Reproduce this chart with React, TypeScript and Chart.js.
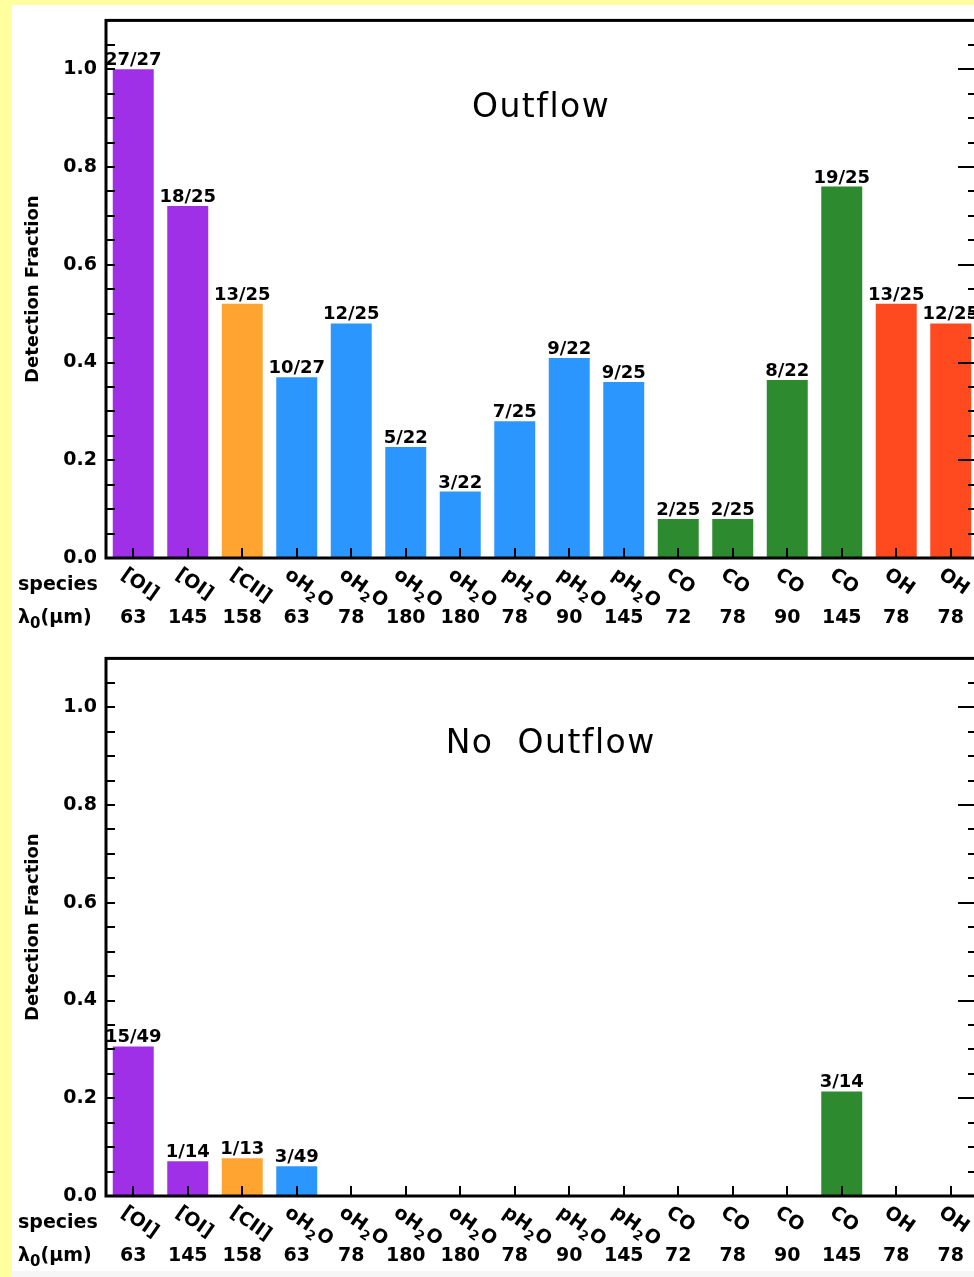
import React, { useEffect, useRef } from 'react';
import { Chart, registerables } from 'chart.js';

Chart.register(...registerables);

// ---------- data ----------
const species = ['[OI]', '[OI]', '[CII]', 'oH2O', 'oH2O', 'oH2O', 'oH2O', 'pH2O', 'pH2O', 'pH2O', 'CO', 'CO', 'CO', 'CO', 'OH', 'OH'];
const wavelengths = ['63', '145', '158', '63', '78', '180', '180', '78', '90', '145', '72', '78', '90', '145', '78', '78'];

const PURPLE = '#A030E8';
const ORANGE = '#FFA430';
const BLUE = '#2C96FF';
const GREEN = '#2E8A2E';
const RED = '#FF4A20';
const barColors = [PURPLE, PURPLE, ORANGE, BLUE, BLUE, BLUE, BLUE, BLUE, BLUE, BLUE, GREEN, GREEN, GREEN, GREEN, RED, RED];

const outflowValues = [1.0, 0.72, 0.52, 0.37, 0.48, 0.227, 0.136, 0.28, 0.409, 0.36, 0.08, 0.08, 0.364, 0.76, 0.52, 0.48];
const outflowDetected = [27, 18, 13, 10, 12, 5, 3, 7, 9, 9, 2, 2, 8, 19, 13, 12];
const outflowTotal = [27, 25, 25, 27, 25, 22, 22, 25, 22, 25, 25, 25, 22, 25, 25, 25];

const noOutflowValues = [0.306, 0.071, 0.077, 0.061, null, null, null, null, null, null, null, null, null, 0.214, null, null];
const noOutflowDetected = [15, 1, 1, 3, null, null, null, null, null, null, null, null, null, 3, null, null];
const noOutflowTotal = [49, 14, 13, 49, null, null, null, null, null, null, null, null, null, 14, null, null];

const yMajorTicks = [0, 0.2, 0.4, 0.6, 0.8, 1.0];
const yMax = 1.1;
const yMinorStep = 0.05;

const FONT = '"DejaVu Sans", sans-serif';

// ---------- helpers ----------
function drawRich(ctx: CanvasRenderingContext2D, text: string, x: number, y: number, size: number, subScale = 0.7, subDrop = 0.4) {
  const parts: { t: string; sub: boolean }[] = [];
  for (const ch of text) {
    const sub = /[0-9]/.test(ch);
    const last = parts[parts.length - 1];
    if (last && last.sub === sub) last.t += ch;
    else parts.push({ t: ch, sub });
  }
  const mainFont = `bold ${size}px ${FONT}`;
  const subFont = `bold ${Math.round(size * subScale)}px ${FONT}`;
  let cx = x;
  ctx.textAlign = 'left';
  ctx.textBaseline = 'alphabetic';
  for (const p of parts) {
    ctx.font = p.sub ? subFont : mainFont;
    ctx.fillText(p.t, cx, p.sub ? y + size * subDrop : y);
    cx += ctx.measureText(p.t).width;
  }
}

function panelPlugin(title: string, titleFrac: number, titleBaseline: number, detected: (number | null)[], totals: (number | null)[]) {
  return {
    id: 'panelDecor',
    afterDatasetsDraw(chart: any) {
      const { ctx, chartArea } = chart;
      const { left, right, top, bottom } = chartArea;
      const xs = chart.scales.x;
      const ys = chart.scales.y;
      ctx.save();
      ctx.fillStyle = '#000';
      ctx.strokeStyle = '#000';

      // y ticks (inside), left and right
      ctx.lineWidth = 2;
      const nMinor = Math.round(yMax / yMinorStep);
      for (let k = 0; k <= nMinor; k++) {
        const v = k * yMinorStep;
        const y = Math.round(ys.getPixelForValue(v));
        const major = yMajorTicks.some((m) => Math.abs(m - v) < 1e-6);
        ctx.beginPath();
        ctx.moveTo(left, y);
        ctx.lineTo(left + 9, y);
        ctx.moveTo(right, y);
        ctx.lineTo(right - (major ? 20 : 10), y);
        ctx.stroke();
      }

      // x ticks (inside, upward)
      for (let i = 0; i < species.length; i++) {
        const x = Math.round(xs.getPixelForValue(i));
        ctx.beginPath();
        ctx.moveTo(x, bottom);
        ctx.lineTo(x, bottom - 10);
        ctx.stroke();
      }

      // frame
      ctx.lineWidth = 3;
      ctx.strokeRect(left, top, right - left, bottom - top);

      // bar value labels
      ctx.font = `bold 18px ${FONT}`;
      ctx.textAlign = 'center';
      ctx.textBaseline = 'alphabetic';
      const meta = chart.getDatasetMeta(0);
      meta.data.forEach((bar: any, i: number) => {
        const d = detected[i];
        const t = totals[i];
        if (d === null || t === null) return;
        ctx.fillText(`${d}/${t}`, bar.x, bar.y - 4);
      });

      // panel title
      ctx.font = `33px ${FONT}`;
      (ctx as any).letterSpacing = '1.5px';
      ctx.textAlign = 'center';
      ctx.fillText(title, left + (right - left) * titleFrac, top + titleBaseline);
      (ctx as any).letterSpacing = '0px';

      // row headers
      ctx.textAlign = 'left';
      ctx.font = `bold 19px ${FONT}`;
      ctx.fillText('species', 18, bottom + 32);
      drawRich(ctx, 'λ0(μm)', 18, bottom + 65, 19, 0.8, 0.25);

      // species (rotated) and wavelengths
      for (let i = 0; i < species.length; i++) {
        const x = xs.getPixelForValue(i);
        ctx.save();
        ctx.translate(x - 13, bottom + 19);
        ctx.rotate((35 * Math.PI) / 180);
        drawRich(ctx, species[i], 0, 0, 19, 0.66, 0.3);
        ctx.restore();
        ctx.font = `bold 19px ${FONT}`;
        ctx.textAlign = 'center';
        ctx.fillText(wavelengths[i], x, bottom + 65);
      }
      ctx.restore();
    },
  };
}

function makeConfig(values: (number | null)[], detected: (number | null)[], totals: (number | null)[], title: string, titleFrac: number, titleBaseline: number): any {
  return {
    type: 'bar',
    data: {
      labels: species,
      datasets: [
        {
          data: values,
          backgroundColor: barColors,
          borderWidth: 0,
          barPercentage: 0.752,
          categoryPercentage: 1,
        },
      ],
    },
    options: {
      responsive: false,
      animation: false,
      layout: { padding: { top: 18, left: 0, right: 22, bottom: 82 } },
      plugins: { legend: { display: false }, tooltip: { enabled: false }, title: { display: false } },
      scales: {
        x: { type: 'category', display: false, offset: true },
        y: {
          min: 0,
          max: yMax,
          grid: { display: false, drawTicks: false },
          border: { display: false },
          afterBuildTicks: (s: any) => {
            s.ticks = yMajorTicks.map((v) => ({ value: v }));
          },
          afterFit: (s: any) => {
            s.width = 106;
          },
          ticks: {
            color: '#000',
            padding: 9,
            font: { family: FONT, size: 19, weight: 'bold' },
            callback: (v: any) => Number(v).toFixed(1),
          },
          title: {
            display: true,
            text: 'Detection Fraction',
            color: '#000',
            font: { family: FONT, size: 18, weight: 'bold' },
            padding: { top: 23, bottom: 0 },
          },
        },
      },
    },
    plugins: [panelPlugin(title, titleFrac, titleBaseline, detected, totals)],
  };
}

function Panel({ top, config }: { top: number; config: () => any }) {
  const ref = useRef<HTMLCanvasElement | null>(null);
  useEffect(() => {
    if (!ref.current) return;
    const chart = new Chart(ref.current, config());
    return () => chart.destroy();
  }, []);
  return (
    <div style={{ position: 'absolute', left: 0, top, width: 1000, height: 640 }}>
      <canvas ref={ref} width={1000} height={640} style={{ display: 'block', width: 1000, height: 640 }} />
    </div>
  );
}

export default function App() {
  return (
    <div style={{ position: 'fixed', left: 0, top: 0, width: 974, height: 1277, overflow: 'hidden', background: '#FFFFA0' }}>
      <div style={{ position: 'absolute', left: 12, top: 5, width: 990, height: 1266, background: '#FFFFFF' }} />
      <div style={{ position: 'absolute', left: 12, top: 1271, width: 990, height: 6, background: '#F6F6F6' }} />
      <Panel top={0} config={() => makeConfig(outflowValues, outflowDetected, outflowTotal, 'Outflow', 0.499, 97)} />
      <Panel top={638} config={() => makeConfig(noOutflowValues, noOutflowDetected, noOutflowTotal, 'No  Outflow', 0.51, 95)} />
    </div>
  );
}
